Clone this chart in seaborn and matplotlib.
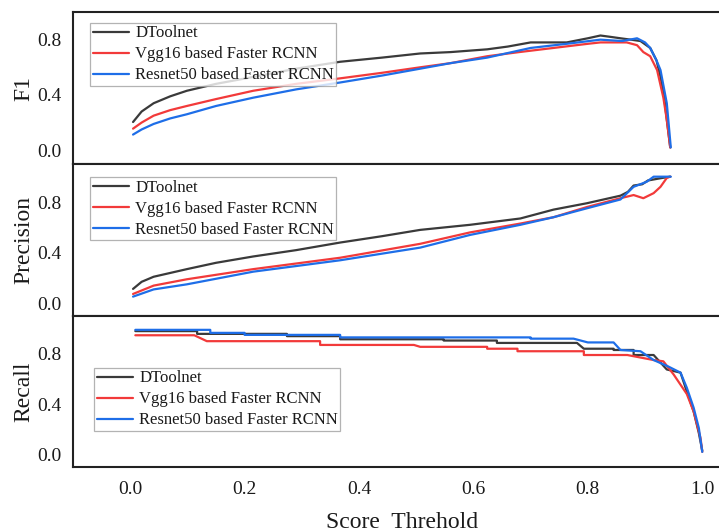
import pandas as pd
import seaborn as sns
import matplotlib.pyplot as plt
from matplotlib.ticker import MultipleLocator, FixedLocator

# === data ===
models = ['DToolnet', 'Vgg16 based Faster RCNN', 'Resnet50 based Faster RCNN']
colors = ['#3a3a3a', '#f23a3a', '#1e6ee8']

# F1
f1_dt_x = [0.005, 0.02, 0.041, 0.07, 0.099, 0.15, 0.215, 0.29, 0.367, 0.44, 0.507, 0.56, 0.624, 0.66, 0.70,
           0.763, 0.80, 0.822, 0.84, 0.857, 0.875, 0.892, 0.909, 0.92, 0.927, 0.933, 0.938, 0.941, 0.944]
f1_dt_y = [0.204, 0.28, 0.34, 0.39, 0.43, 0.48, 0.53, 0.59, 0.64, 0.67, 0.70, 0.71, 0.73, 0.75, 0.78,
           0.78, 0.81, 0.83, 0.82, 0.81, 0.80, 0.79, 0.74, 0.65, 0.53, 0.40, 0.22, 0.12, 0.02]
f1_vgg_x = [0.005, 0.02, 0.041, 0.07, 0.099, 0.15, 0.215, 0.29, 0.367, 0.44, 0.507, 0.56, 0.624, 0.68, 0.74,
            0.80, 0.822, 0.868, 0.886, 0.897, 0.909, 0.921, 0.932, 0.938, 0.944]
f1_vgg_y = [0.156, 0.20, 0.25, 0.29, 0.32, 0.37, 0.43, 0.48, 0.52, 0.56, 0.60, 0.63, 0.68, 0.71, 0.74,
            0.77, 0.78, 0.78, 0.76, 0.71, 0.68, 0.58, 0.38, 0.22, 0.02]
f1_res_x = [0.005, 0.02, 0.041, 0.07, 0.099, 0.15, 0.215, 0.29, 0.367, 0.44, 0.507, 0.56, 0.624, 0.70, 0.763,
            0.822, 0.86, 0.886, 0.90, 0.909, 0.92, 0.927, 0.938, 0.945]
f1_res_y = [0.113, 0.15, 0.19, 0.23, 0.26, 0.32, 0.38, 0.44, 0.49, 0.54, 0.59, 0.63, 0.67, 0.74, 0.77,
            0.80, 0.79, 0.81, 0.78, 0.74, 0.65, 0.58, 0.34, 0.02]

# Precision
pr_dt_x = [0.005, 0.02, 0.041, 0.07, 0.099, 0.15, 0.215, 0.29, 0.367, 0.44, 0.507, 0.594, 0.682, 0.74,
           0.798, 0.857, 0.87, 0.88, 0.895, 0.905, 0.93, 0.944]
pr_dt_y = [0.114, 0.17, 0.21, 0.24, 0.27, 0.32, 0.37, 0.42, 0.48, 0.53, 0.58, 0.62, 0.67, 0.74,
           0.79, 0.85, 0.88, 0.93, 0.94, 0.97, 0.99, 1.0]
pr_vgg_x = [0.005, 0.041, 0.099, 0.215, 0.367, 0.507, 0.594, 0.682, 0.74, 0.798, 0.857, 0.88, 0.897,
            0.915, 0.927, 0.938, 0.944]
pr_vgg_y = [0.074, 0.14, 0.19, 0.27, 0.36, 0.47, 0.56, 0.63, 0.68, 0.76, 0.83, 0.855, 0.83,
            0.87, 0.92, 0.99, 1.0]
pr_res_x = [0.005, 0.041, 0.099, 0.215, 0.367, 0.507, 0.594, 0.682, 0.74, 0.798, 0.857, 0.88, 0.903,
            0.915, 0.945]
pr_res_y = [0.053, 0.11, 0.15, 0.25, 0.34, 0.44, 0.54, 0.62, 0.68, 0.75, 0.82, 0.92, 0.96,
            1.0, 1.0]

# Recall
re_dt_x = [0.009, 0.117, 0.117, 0.274, 0.274, 0.367, 0.367, 0.548, 0.548, 0.641, 0.641, 0.781, 0.793, 0.845,
           0.845, 0.88, 0.88, 0.915, 0.938, 0.962, 0.973, 0.985, 0.994, 1.0]
re_dt_y = [0.98, 0.98, 0.958, 0.958, 0.94, 0.94, 0.915, 0.915, 0.905, 0.905, 0.886, 0.886, 0.84, 0.84,
           0.83, 0.83, 0.79, 0.79, 0.675, 0.65, 0.50, 0.34, 0.17, 0.03]
re_vgg_x = [0.009, 0.112, 0.134, 0.332, 0.332, 0.496, 0.507, 0.624, 0.624, 0.677, 0.677, 0.793, 0.793, 0.869,
            0.915, 0.932, 0.95, 0.973, 0.985, 0.997, 1.0]
re_vgg_y = [0.947, 0.947, 0.90, 0.90, 0.87, 0.87, 0.855, 0.855, 0.84, 0.84, 0.82, 0.82, 0.79, 0.79,
            0.75, 0.74, 0.635, 0.48, 0.34, 0.13, 0.02]
re_res_x = [0.009, 0.14, 0.14, 0.2, 0.2, 0.367, 0.367, 0.70, 0.70, 0.775, 0.80, 0.845, 0.857, 0.892,
            0.915, 0.94, 0.962, 0.973, 0.985, 0.994, 1.0]
re_res_y = [0.99, 0.99, 0.966, 0.966, 0.95, 0.95, 0.93, 0.93, 0.92, 0.92, 0.89, 0.89, 0.83, 0.82,
            0.75, 0.70, 0.65, 0.53, 0.37, 0.21, 0.02]


def make_df(series):
    frames = []
    for name, (xs, ys) in zip(models, series):
        frames.append(pd.DataFrame({'threshold': xs, 'value': ys, 'model': name}))
    return pd.concat(frames, ignore_index=True)


panels = [
    ('F1', (-0.1, 1.0), make_df([(f1_dt_x, f1_dt_y), (f1_vgg_x, f1_vgg_y), (f1_res_x, f1_res_y)]), (0.026, 0.928)),
    ('Precision', (-0.1, 1.1), make_df([(pr_dt_x, pr_dt_y), (pr_vgg_x, pr_vgg_y), (pr_res_x, pr_res_y)]), (0.026, 0.914)),
    ('Recall', (-0.1, 1.1), make_df([(re_dt_x, re_dt_y), (re_vgg_x, re_vgg_y), (re_res_x, re_res_y)]), (0.032, 0.656)),
]

sns.set_theme(style='white')
plt.rcParams['font.family'] = ['Liberation Serif', 'DejaVu Serif']
plt.rcParams['text.color'] = '#1a1a1a'
plt.rcParams['axes.labelcolor'] = '#1a1a1a'
plt.rcParams['xtick.color'] = '#1a1a1a'
plt.rcParams['ytick.color'] = '#1a1a1a'

fig = plt.figure(figsize=(7.19, 5.32), dpi=100)
left, width = 0.1015, 0.915
bottoms = [0.6917, 0.406, 0.1222]
heights = [0.2857, 0.2857, 0.2838]

for i, (ylab, ylim, df, anchor) in enumerate(panels):
    ax = fig.add_axes([left, bottoms[i], width, heights[i]])
    sns.lineplot(data=df, x='threshold', y='value', hue='model', palette=dict(zip(models, colors)),
                 estimator=None, sort=False, linewidth=1.6, legend=False, ax=ax)
    ax.set_xlim(-0.1, 1.05)
    ax.set_ylim(*ylim)
    for s in ax.spines.values():
        s.set_color('#222222')
        s.set_linewidth(1.5)
    ax.yaxis.set_major_locator(FixedLocator([0.0, 0.4, 0.8]))
    ax.yaxis.set_minor_locator(FixedLocator([0.2, 0.6, 1.0]))
    ax.tick_params(axis='y', which='major', direction='out', length=7, width=1.2, pad=1, labelsize=14)
    ax.tick_params(axis='y', which='minor', direction='out', length=3.5, width=1.2)
    ax.set_ylabel(ylab, fontsize=17)
    ax.yaxis.set_label_coords(-0.058, 0.5)
    if i < 2:
        ax.set_xlabel('')
        ax.tick_params(axis='x', which='both', bottom=False, labelbottom=False)
    else:
        ax.xaxis.set_major_locator(MultipleLocator(0.2))
        ax.xaxis.set_minor_locator(MultipleLocator(0.1))
        ax.tick_params(axis='x', which='major', direction='in', length=6.5, width=1.2, pad=10, labelsize=14)
        ax.tick_params(axis='x', which='minor', direction='in', length=3.2, width=1.2)
        ax.set_xlabel('Score  Threhold', fontsize=17, labelpad=10)
    leg = ax.legend(ax.get_lines(), models, loc='upper left', bbox_to_anchor=anchor, borderaxespad=0,
                    fontsize=12, frameon=True, fancybox=False, handlelength=2.2, handletextpad=0.35,
                    borderpad=0.15, labelspacing=0.3)
    leg.get_frame().set_edgecolor('#a0a0a0')
    leg.get_frame().set_linewidth(0.9)

fig.savefig('out.png', dpi=100)
